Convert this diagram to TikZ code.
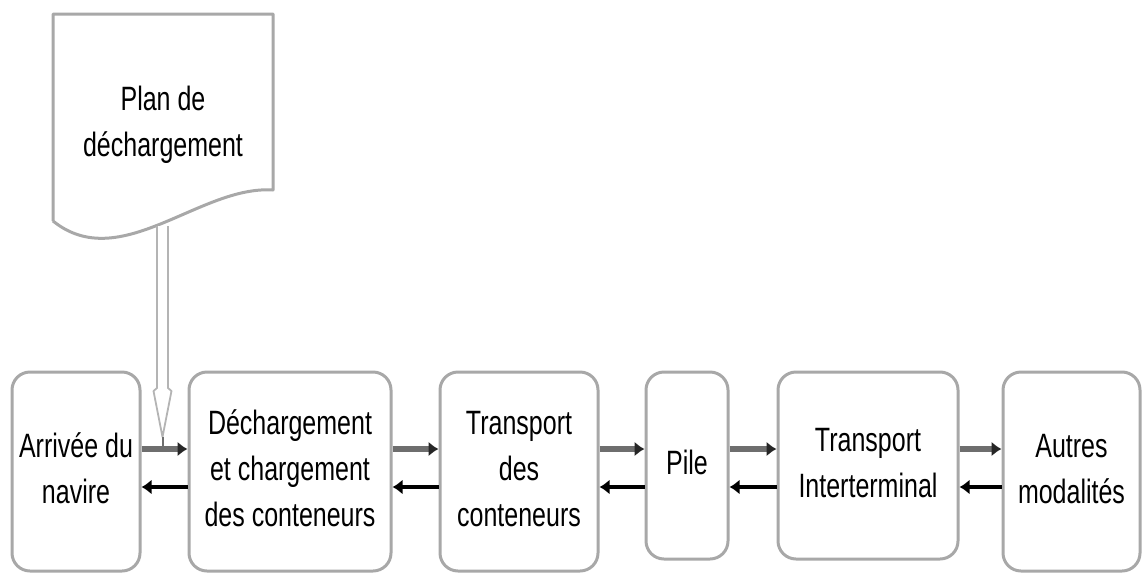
\documentclass[tikz,border=0pt]{standalone}
\usepackage{fontspec}
\setmainfont{Liberation Sans}
\usepackage{graphicx}
\usetikzlibrary{arrows.meta}
\definecolor{boxgray}{HTML}{A8A8A8}
\definecolor{fwdgray}{HTML}{6E6E6E}
\definecolor{stemgray}{HTML}{B4B4B4}
% multi-line label, stretched vertically
\newcommand{\lbl}[1]{\scalebox{1}[1.35]{\begin{tabular}{@{}c@{}}#1\end{tabular}}}
\tikzset{
  stage/.style={draw=boxgray, line width=3pt, rounded corners=18pt, fill=white,
    inner sep=0pt, font=\fontsize{25}{34}\selectfont},
  fwd/.style={draw=fwdgray, line width=5.5pt, -{Latex[length=10pt,width=15pt,color=black!85]}},
  back/.style={draw=black, line width=4pt, -{Latex[length=10pt,width=15pt]}},
  doctext/.style={inner sep=0pt, font=\fontsize{25}{34}\selectfont}
}
\begin{document}
\begin{tikzpicture}[x=1pt,y=-1pt]
\useasboundingbox (0,0) rectangle (1142,573);

% document shape
\draw[boxgray, line width=3pt, line join=round]
  (53,221) -- (53,14) -- (273,14) -- (273,190)
  .. controls (200,185) and (120,275) .. (53,221);
\node[doctext] (plan) at (163,124) {\lbl{Plan de\\déchargement}};

% process stages
\node[stage, minimum width=128pt, minimum height=199pt] (b1) at (76,471.5) {\lbl{Arrivée du\\navire}};
\node[stage, minimum width=202pt, minimum height=199pt] (b2) at (290,471.5) {\lbl{Déchargement\\et chargement\\des conteneurs}};
\node[stage, minimum width=158pt, minimum height=199pt] (b3) at (519,471.5) {\lbl{Transport\\des\\conteneurs}};
\node[stage, minimum width=82pt, minimum height=187pt] (b4) at (687,465.5) {\lbl{Pile}};
\node[stage, minimum width=180pt, minimum height=187pt] (b5) at (868,465.5) {\lbl{Transport\\Interterminal}};
\node[stage, minimum width=137pt, minimum height=199pt] (b6) at (1071.5,471.5) {\lbl{Autres\\modalités}};

% rows of the two arrow directions
\coordinate (upy) at (0,449);
\coordinate (lowy) at (0,487);

\foreach \a/\b in {b1/b2,b2/b3,b3/b4,b4/b5,b5/b6}{
  \draw[fwd] (\a.east |- upy) -- (\b.west |- upy);
  \draw[back] (\b.west |- lowy) -- (\a.east |- lowy);
}

% hollow connector from the plan down to the first arrow
\coordinate (planfoot) at (162.5,226);
\coordinate (tipend) at (162.5,446);
\draw[stemgray, line width=1.8pt, fill=white, line join=round]
  (planfoot -| 157,0) -- (157,388) -- (153.5,391) -- (162.5,437)
  -- (171.5,391) -- (168,388) -- (planfoot -| 168,0);
\draw[fwdgray, line width=2pt] (162.5,437) -- (tipend);
\end{tikzpicture}
\end{document}
